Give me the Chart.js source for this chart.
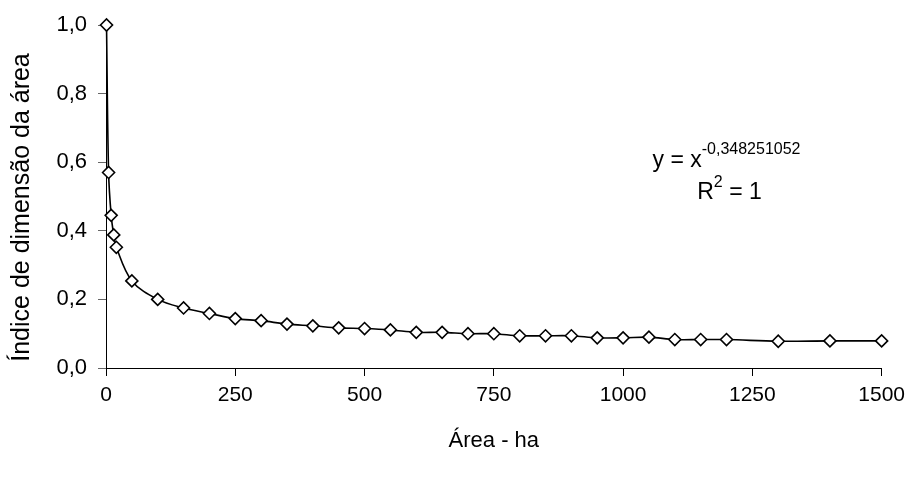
<!DOCTYPE html>
<html>
<head>
<meta charset="utf-8">
<script src="https://cdn.jsdelivr.net/npm/chart.js@4.4.1/dist/chart.umd.min.js"></script>
<style>
    html, body { margin: 0; padding: 0; background: #fff; }
    #wrap { width: 912px; height: 477px; }
</style>
</head>
<body>
<div id="wrap"><canvas id="indexChart" width="912" height="477"></canvas></div>
<script>
// Area (ha) and area-dimension index
const areas = [1, 5, 10, 15, 20, 50, 100, 150, 200, 250, 300, 350, 400, 450, 500,
    550, 600, 650, 700, 750, 800, 850, 900, 950, 1000, 1050, 1100, 1150, 1200, 1300, 1400, 1500];
const indices = [1.0, 0.57, 0.445, 0.388, 0.352, 0.254, 0.20, 0.175, 0.159, 0.144, 0.138, 0.128, 0.123, 0.117, 0.115,
    0.111, 0.104, 0.104, 0.10, 0.10, 0.094, 0.094, 0.094, 0.088, 0.088, 0.09, 0.083, 0.083, 0.083, 0.078, 0.079, 0.079];
const xTicks = [0, 250, 500, 750, 1000, 1250, 1500];
const yTicks = [0, 0.2, 0.4, 0.6, 0.8, 1.0];

const FONT = "'Liberation Sans', Arial, sans-serif";

// Y axis title: sits a bit below the plot centre in the original, so draw it by hand
const yAxisTitle = {
    id: 'yAxisTitle',
    afterDraw(chart) {
        const ctx = chart.ctx;
        const area = chart.chartArea;
        ctx.save();
        ctx.translate(22, (area.top + area.bottom) / 2 + 11);
        ctx.rotate(-Math.PI / 2);
        ctx.font = '25px ' + FONT;
        ctx.fillStyle = '#000';
        ctx.textAlign = 'center';
        ctx.textBaseline = 'middle';
        ctx.fillText('Índice de dimensão da área', 0, 0);
        ctx.restore();
    }
};

// Equation label drawn next to the curve
const equationLabel = {
    id: 'equationLabel',
    afterDraw(chart) {
        const ctx = chart.ctx;
        const xs = chart.scales.x, ys = chart.scales.y;
        const cx = xs.getPixelForValue(1200);
        const y1 = ys.getPixelForValue(0.606);
        const y2 = ys.getPixelForValue(0.513);
        const big = '23px ' + FONT, small = '16px ' + FONT;

        ctx.save();
        ctx.fillStyle = '#000';
        ctx.textBaseline = 'middle';
        ctx.textAlign = 'left';

        // y = x^-0,348251052
        ctx.font = big;
        const base = 'y = x';
        const wBase = ctx.measureText(base).width;
        ctx.font = small;
        const sup = '-0,348251052';
        const wSup = ctx.measureText(sup).width;
        let left = cx - (wBase + wSup) / 2;
        ctx.font = big;
        ctx.fillText(base, left, y1 + 1);
        ctx.font = small;
        ctx.fillText(sup, left + wBase, y1 - 11);

        // R^2 = 1
        ctx.font = big;
        const wR = ctx.measureText('R').width, wRest = ctx.measureText(' = 1').width;
        ctx.font = small;
        const w2 = ctx.measureText('2').width;
        left = cx - (wR + w2 + wRest) / 2 + 3;
        ctx.font = big;
        ctx.fillText('R', left, y2 + 1);
        ctx.font = small;
        ctx.fillText('2', left + wR, y2 - 9);
        ctx.font = big;
        ctx.fillText(' = 1', left + wR + w2, y2 + 1);
        ctx.restore();
    }
};

document.addEventListener('DOMContentLoaded', () => {
    Chart.defaults.font.family = FONT;
    Chart.defaults.color = '#000';

    const ctx = document.getElementById('indexChart').getContext('2d');

    new Chart(ctx, {
        type: 'scatter',
        data: {
            datasets: [{
                data: areas.map((a, i) => ({ x: a, y: indices[i] })),
                showLine: true,
                clip: false,
                borderColor: '#000',
                borderWidth: 1.6,
                tension: 0.35,
                pointStyle: 'rectRot',
                pointRadius: 6,
                pointBackgroundColor: '#fff',
                pointBorderColor: '#000',
                pointBorderWidth: 1.6
            }]
        },
        options: {
            responsive: false,
            animation: false,
            layout: { padding: { top: 25, right: 28, bottom: 23, left: 0 } },
            plugins: { legend: { display: false }, tooltip: { enabled: false } },
            scales: {
                x: {
                    type: 'linear',
                    min: 0,
                    max: 1500,
                    afterBuildTicks: (scale) => { scale.ticks = xTicks.map(v => ({ value: v })); },
                    afterFit: (scale) => { scale.height = 86; },
                    grid: { drawOnChartArea: false, drawTicks: true, tickLength: 8, color: '#000' },
                    border: { color: '#000', width: 1 },
                    ticks: { font: { size: 21 }, padding: 7, maxRotation: 0, callback: (v) => String(v) },
                    title: { display: true, text: 'Área - ha', font: { size: 22 }, padding: { top: 0, bottom: 0 } }
                },
                y: {
                    min: 0,
                    max: 1,
                    afterBuildTicks: (scale) => { scale.ticks = yTicks.map(v => ({ value: v })); },
                    afterFit: (scale) => { scale.width = 106; },
                    grid: { drawOnChartArea: false, drawTicks: true, tickLength: 8, color: '#666' },
                    border: { color: '#000', width: 1 },
                    ticks: {
                        font: { size: 22 },
                        padding: 11,
                        callback: (v) => v.toFixed(1).replace('.', ',')
                    },
                    title: { display: false }
                }
            }
        },
        plugins: [yAxisTitle, equationLabel]
    });
});
</script>
</body>
</html>
